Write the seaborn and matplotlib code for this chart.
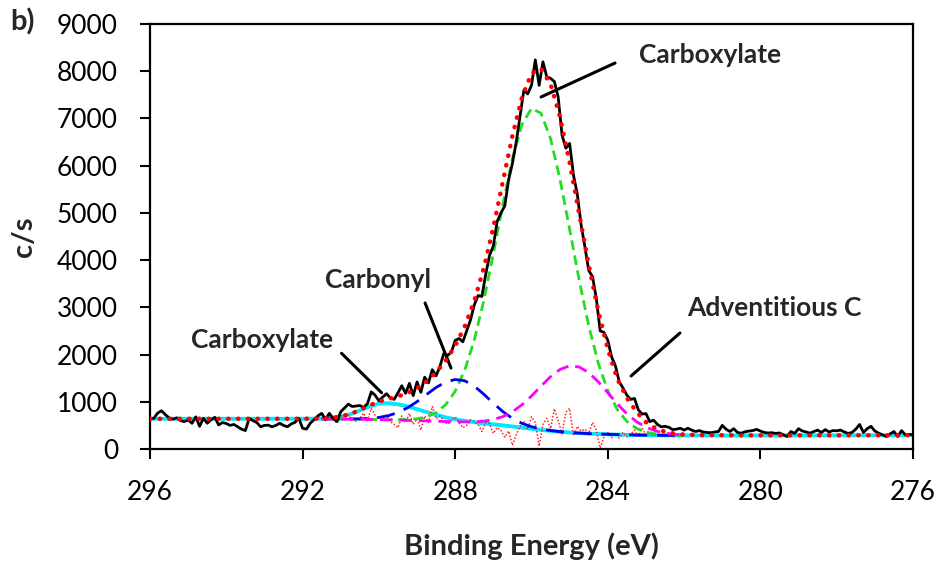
import numpy as np
import pandas as pd
import matplotlib
matplotlib.use("Agg")
import matplotlib.pyplot as plt
import seaborn as sns

# ---------------- data ----------------
# raw spectrum, 0.1 eV steps from 296.0 eV down to 276.0 eV
raw_counts = [
    640, 650, 760, 810, 730, 660, 630, 660, 600, 580,
    615, 545, 680, 480, 650, 545, 620, 670, 510, 560,
    540, 500, 520, 470, 420, 390, 650, 600, 560, 470,
    500, 505, 470, 500, 545, 500, 470, 530, 565, 650,
    440, 420, 545, 620, 700, 755, 630, 755, 650, 580,
    790, 870, 950, 900, 910, 920, 880, 960, 1210, 1140,
    1020, 1100, 1170, 1080, 1050, 1190, 1340, 1180, 1390, 1130,
    1420, 1200, 1520, 1400, 1680, 1550, 1750, 2020, 1980, 2050,
    2300, 2340, 2270, 2500, 2730, 3050, 3250, 3230, 3700, 4100,
    4300, 4820, 5000, 5150, 5700, 6050, 6500, 7050, 7600, 7520,
    7700, 8240, 7700, 8200, 7880, 7850, 7780, 7450, 6650, 6370,
    6470, 5800, 5400, 4750, 4280, 3780, 3650, 3180, 2500, 2470,
    2300, 1950, 1760, 1420, 1290, 1140, 1050, 1070, 830, 740,
    750, 580, 610, 520, 470, 480, 460, 410, 420, 440,
    400, 440, 400, 370, 390, 360, 350, 345, 360, 370,
    500, 420, 370, 430, 350, 335, 365, 380, 390, 415,
    380, 350, 340, 345, 330, 340, 300, 265, 370, 330,
    430, 380, 360, 335, 370, 400, 350, 410, 360, 390,
    385, 400, 360, 330, 350, 420, 520, 350, 430, 480,
    380, 335, 300, 265, 320, 370, 265, 390, 300, 310,
    300,
]

# fit envelope and background(+289.8 eV component), 0.25 eV steps 296.0 -> 276.0
envelope = [640] * 16 + [
    641, 642, 645, 657, 687, 742, 825, 921, 1005, 1061,
    1113, 1185, 1287, 1431, 1624, 1868, 2184, 2597, 3134, 3831,
    4695, 5669, 6635, 7446, 7953, 8055, 7727, 7026, 6065, 4977,
    3899, 2924, 2112, 1484, 1080, 790, 570, 440, 365, 325,
    305,
] + [300, 296, 294, 292, 291, 290, 290, 290, 290, 290, 290, 290,
     290, 290, 290, 290, 290, 291, 291, 291, 291, 292, 292, 292]

carboxylate_289 = [640] * 16 + [
    640, 642, 645, 657, 685, 738, 816, 900, 960, 970,
    946, 902, 844, 782, 723, 670, 628, 595, 568, 544,
    522, 500, 476, 452, 428, 405, 384, 365, 349, 336,
    326, 318, 311, 305, 300, 296, 293, 291, 289, 288,
    287,
] + [287, 286, 286, 286, 286, 286, 286, 287, 287, 287, 288, 288,
     288, 289, 289, 289, 290, 290, 290, 291, 291, 291, 292, 292]

# fitted components, 0.25 eV steps 291.5 -> 282.0
carboxylate_286 = [
    638, 636, 634, 632, 630, 626, 622, 619, 618, 623,
    640, 682, 772, 938, 1223, 1669, 2308, 3143, 4135, 5185,
    6150, 6871, 7214, 7109, 6572, 5703, 4652, 3576, 2607, 1818,
    1232, 834, 584, 438, 360, 320, 301, 293, 289,
]
carbonyl_288 = [
    638, 636, 636, 636, 639, 647, 667, 706, 773, 872,
    1003, 1155, 1304, 1418, 1472, 1445, 1332, 1160, 969, 792,
    648, 543, 472, 424, 391, 367, 350, 336, 326, 318,
    311, 305, 300, 296, 293, 291, 289, 288, 287,
]
adventitious_285 = [
    638, 636, 634, 632, 630, 626, 622, 617, 612, 606,
    600, 594, 589, 582, 577, 574, 576, 589, 623, 686,
    789, 936, 1123, 1332, 1532, 1686, 1761, 1737, 1618, 1424,
    1191, 955, 746, 580, 461, 384, 336, 310, 297,
]

# residual (offset onto background), 0.1 eV steps 291.5 -> 282.6
residual = [
    640, 600, 680, 620, 560, 700, 690, 720, 620, 590,
    650, 760, 600, 860, 720, 640, 700, 720, 580, 520,
    450, 700, 560, 750, 520, 640, 400, 700, 560, 900,
    640, 700, 610, 520, 600, 680, 560, 450, 500, 620,
    580, 520, 370, 560, 540, 330, 460, 390, 250, 380,
    80, 300, 480, 590, 420, 680, 560, 60, 520, 650,
    430, 850, 600, 320, 780, 860, 280, 480, 380, 420,
    330, 560, 400, 20, 260, 350, 240, 320, 230, 350,
    260, 310, 400, 270, 440, 300, 320, 280, 300, 290,
]

x_ticks = [296, 292, 288, 284, 280, 276]
y_ticks = [0, 1000, 2000, 3000, 4000, 5000, 6000, 7000, 8000, 9000]

# ---------------- figure ----------------
sns.set_style("ticks")
plt.rcParams['font.family'] = ['Lato', 'DejaVu Sans']

fig = plt.figure(figsize=(9.42, 5.68), dpi=100)
ax = fig.add_axes([150 / 942, 1 - 449 / 568, 763 / 942, 425 / 568])

raw_ev = 296.0 - 0.1 * np.arange(len(raw_counts))
fit_ev = 296.0 - 0.25 * np.arange(len(envelope))
comp_ev = 291.5 - 0.25 * np.arange(len(carboxylate_286))
res_ev = 291.5 - 0.1 * np.arange(len(residual))

common = dict(ax=ax, errorbar=None, sort=False, legend=False)

sns.lineplot(x=fit_ev, y=carboxylate_289, color='#00E8FF', linewidth=2.8,
             zorder=2, **common)
sns.lineplot(x=res_ev, y=residual, color='#FF2020', linewidth=1.1,
             linestyle=(0, (1, 1.2)), zorder=3, **common)
sns.lineplot(x=comp_ev, y=carboxylate_286, color='#22DD22', linewidth=2.0,
             linestyle=(0, (3.5, 2)), zorder=4, **common)
sns.lineplot(x=comp_ev, y=carbonyl_288, color='#0000F0', linewidth=2.0,
             linestyle=(0, (6.5, 3.5)), zorder=4, **common)
sns.lineplot(x=comp_ev, y=adventitious_285, color='#FF00FF', linewidth=2.0,
             linestyle=(0, (4.5, 2.5)), zorder=4, **common)
sns.lineplot(x=raw_ev, y=raw_counts, color='black', linewidth=2.0,
             zorder=5, **common)
sns.lineplot(x=fit_ev, y=envelope, color='#FF0000', linewidth=3.2,
             linestyle=(0, (0.1, 2.1)), dash_capstyle='round', zorder=6,
             **common)

ax.set_xlim(296, 276)
ax.set_ylim(0, 9000)
ax.set_xticks(x_ticks)
ax.set_yticks(y_ticks)
ax.set_xticklabels([str(t) for t in x_ticks])
ax.set_yticklabels([str(t) for t in y_ticks])
ax.tick_params(direction='out', length=7, width=1.5, labelsize=19,
               colors='black')
ax.tick_params(axis='y', pad=16)
ax.tick_params(axis='x', pad=15)
for sp in ax.spines.values():
    sp.set_visible(True)
    sp.set_linewidth(1.6)
    sp.set_color('black')

ax.set_xlabel('Binding Energy (eV)', fontsize=21, fontweight='bold',
              labelpad=20)
ax.set_ylabel('c/s', fontsize=21, fontweight='bold', labelpad=14)

# annotations
txt = dict(fontsize=19, fontweight='bold', ha='center', va='center')
line = dict(arrowstyle='-', lw=2.2, color='black', shrinkA=0, shrinkB=0)

ax.text(281.32, 8343, 'Carboxylate', **txt)
ax.annotate('', xy=(285.75, 7454), xytext=(283.81, 8174), arrowprops=line)

ax.text(290.02, 3579, 'Carbonyl', **txt)
ax.annotate('', xy=(288.11, 1715), xytext=(288.79, 3092), arrowprops=line)

ax.text(293.06, 2308, 'Carboxylate', **txt)
ax.annotate('', xy=(289.93, 1192), xytext=(290.98, 2027), arrowprops=line)

ax.text(279.64, 2986, 'Adventitious C', **txt)
ax.annotate('', xy=(283.39, 1546), xytext=(282.11, 2456), arrowprops=line)

fig.text(23 / 942, 1 - 22 / 568, 'b)', fontsize=21, fontweight='bold',
         ha='center', va='center')

fig.savefig('out.png', dpi=100)
